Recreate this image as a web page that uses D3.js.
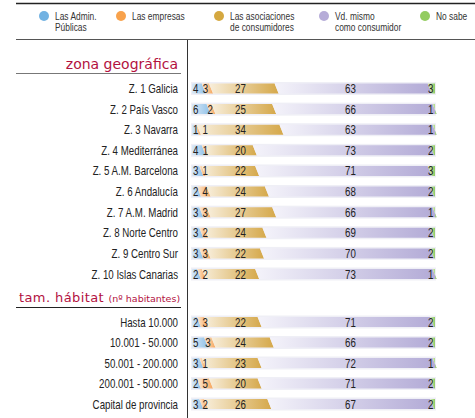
<!DOCTYPE html>
<html>
<head>
<meta charset="utf-8">
<script src="https://cdn.jsdelivr.net/npm/d3@7"></script>
<style>
  body { margin: 0; background: #fff; }
  svg text.n { font-family: "Liberation Sans", Arial, sans-serif; }
</style>
</head>
<body>
<div id="chart"></div>
<script>
// categorías y series
const seriesNames = [["Las Admin.", "Públicas"], ["Las empresas"], ["Las asociaciones", "de consumidores"], ["Vd. mismo", "como consumidor"], ["No sabe"]];
const zonaLabels = ["Z. 1 Galicia", "Z. 2 País Vasco", "Z. 3 Navarra", "Z. 4 Mediterránea", "Z. 5 A.M. Barcelona",
  "Z. 6 Andalucía", "Z. 7 A.M. Madrid", "Z. 8 Norte Centro", "Z. 9 Centro Sur", "Z. 10 Islas Canarias"];
const zonaValues = [
  [4, 3, 27, 63, 3],
  [6, 2, 25, 66, 1],
  [1, 1, 34, 63, 1],
  [4, 1, 20, 73, 2],
  [3, 1, 22, 71, 3],
  [2, 4, 24, 68, 2],
  [3, 3, 27, 66, 1],
  [3, 2, 24, 69, 2],
  [3, 3, 22, 70, 2],
  [2, 2, 22, 73, 1]
];
const habitatLabels = ["Hasta 10.000", "10.001 - 50.000", "50.001 - 200.000", "200.001 - 500.000", "Capital de provincia"];
const habitatValues = [
  [2, 3, 22, 71, 2],
  [5, 3, 24, 66, 2],
  [3, 1, 23, 72, 1],
  [2, 5, 20, 71, 2],
  [3, 2, 26, 67, 2]
];

const W = 475, H = 418;
const sx = 0.76; // letra estrecha
const legendColors = ["#72b2e2", "#f8a24c", "#d5a840", "#b6acd8", "#93cc60"];
const gradStops = [
  ["#dbe9f6", "#8ec0e8"],
  ["#fdebd6", "#f6a55a"],
  ["#f8eedb", "#d5a84a"],
  ["#f4f3fa", "#b2aad6"],
  ["#d6edbf", "#8fca62"]
];

const svg = d3.select("#chart").append("svg").attr("width", W).attr("height", H);
const defs = svg.append("defs");
gradStops.forEach((g, i) => {
  const lg = defs.append("linearGradient").attr("id", "g" + i)
    .attr("x1", "0%").attr("x2", "100%").attr("y1", "0%").attr("y2", "0%");
  lg.append("stop").attr("offset", "0%").attr("stop-color", g[0]);
  lg.append("stop").attr("offset", "100%").attr("stop-color", g[1]);
});

// marco
svg.append("line").attr("x1", 16).attr("x2", W).attr("y1", 3.5).attr("y2", 3.5).attr("stroke", "#222").attr("stroke-width", 1.3);
svg.append("line").attr("x1", 16).attr("x2", W).attr("y1", 39.5).attr("y2", 39.5).attr("stroke", "#555").attr("stroke-width", 1);
svg.append("line").attr("x1", 187.5).attr("x2", 187.5).attr("y1", 40).attr("y2", H).attr("stroke", "#333").attr("stroke-width", 1);

// leyenda
const legendX = [44, 121, 219, 324, 425];
const leg = svg.append("g").selectAll("g").data(seriesNames).join("g")
  .attr("transform", (d, i) => `translate(${legendX[i]},16)`);
leg.append("circle").attr("r", 5).attr("fill", (d, i) => legendColors[i]);
leg.selectAll("text").data(d => d).join("text").attr("class", "n")
  .attr("transform", (d, i) => `translate(11,${4 + i * 11}) scale(${sx + 0.04},1)`)
  .attr("font-size", 10.5).attr("fill", "#333")
  .text(d => d);

// escala x
const x = d3.scaleLinear().domain([0, 100]).range([192, 435]);
const slant = 4, barH = 10;
const labelX = [null, null, 235, 345, 428];

function drawGroup(labels, values, y) {
  const g = svg.append("g");
  g.selectAll("text.cat").data(labels).join("text").attr("class", "n cat")
    .attr("transform", (d, i) => `translate(178,${y(i) + 4.5}) scale(${sx},1)`)
    .attr("text-anchor", "end").attr("font-size", 12.8).attr("fill", "#222")
    .text(d => d);

  const rows = g.selectAll("g.row").data(values).join("g").attr("class", "row")
    .attr("transform", (d, i) => `translate(0,${y(i)})`);
  rows.append("rect").attr("x", x(0) - 1).attr("y", -barH / 2 - 1.5).attr("width", x(100) - x(0) + 2)
    .attr("height", barH + 3).attr("fill", "#efeff6");

  rows.each(function (vals) {
    const r = d3.select(this);
    let cum = 0;
    const segs = vals.map((v, i) => {
      const s = { i, v, x0: cum, x1: cum + v };
      cum += v;
      return s;
    });
    r.selectAll("path").data(segs).join("path")
      .attr("d", s => {
        const a = x(s.x0), b = x(s.x1);
        const top = -barH / 2, bot = barH / 2;
        const la = s.i === 0 ? 0 : slant, rb = s.i === 4 ? 0 : slant;
        return `M${a},${top}L${b},${top}L${b + rb},${bot}L${a + la},${bot}Z`;
      })
      .attr("fill", s => `url(#g${s.i})`);
    r.selectAll("text").data(segs).join("text").attr("class", "n")
      .attr("transform", s => {
        let lx;
        if (s.i === 0) lx = 193;
        else if (s.i === 1) lx = Math.max(x(s.x0) + 1, 202.5);
        else lx = labelX[s.i];
        return `translate(${lx},4.5) scale(${sx},1)`;
      })
      .attr("font-size", 12.8).attr("fill", "#222")
      .text(s => s.v);
  });
}

const yZona = d3.scaleLinear().domain([0, 9]).range([88.5, 274]);
const yHab = d3.scaleLinear().domain([0, 4]).range([322, 404]);

// encabezados
svg.append("text").attr("x", 178).attr("y", 69).attr("text-anchor", "end")
  .attr("font-size", 14).attr("fill", "#b3123f").attr("letter-spacing", 0)
  .style("font-family", "'DejaVu Sans', sans-serif").text("zona geográfica");
svg.append("line").attr("x1", 16).attr("x2", 181).attr("y1", 73.5).attr("y2", 73.5).attr("stroke", "#777");

const th = svg.append("text").attr("x", 19).attr("y", 302).attr("fill", "#b3123f")
  .style("font-family", "'DejaVu Sans', sans-serif");
th.append("tspan").attr("font-size", 13).attr("letter-spacing", 0.4).text("tam. hábitat ");
th.append("tspan").attr("font-size", 9.5).text("(nº habitantes)");
svg.append("line").attr("x1", 16).attr("x2", 181).attr("y1", 307.5).attr("y2", 307.5).attr("stroke", "#222");

drawGroup(zonaLabels, zonaValues, yZona);
drawGroup(habitatLabels, habitatValues, yHab);
</script>
</body>
</html>
